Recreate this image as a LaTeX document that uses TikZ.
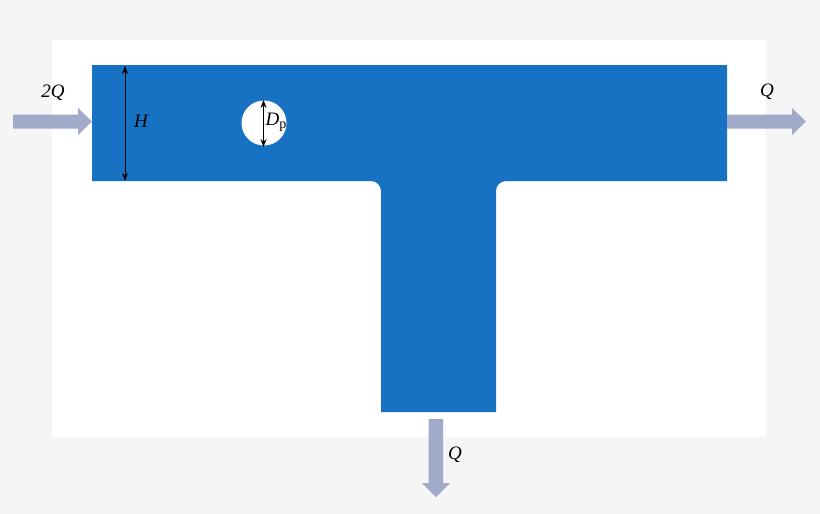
\documentclass[tikz,border=0pt]{standalone}
\usepackage{fontspec}
\setmainfont{Liberation Serif}
\usetikzlibrary{arrows.meta}
\definecolor{tblue}{HTML}{1872C4}
\definecolor{flowc}{HTML}{A2AAC9}
\definecolor{bggray}{HTML}{F5F5F5}
\tikzset{
  flow/.style={fill=flowc, draw=none},
  lbl/.style={font=\fontsize{19}{22}\selectfont\itshape, inner sep=0pt},
  dim/.style={line width=0.8pt, {Stealth[length=8pt,width=6pt]}-{Stealth[length=8pt,width=6pt]}}
}
\begin{document}
\begin{tikzpicture}[x=1pt,y=-1pt]
\useasboundingbox (0,0) rectangle (820,514);
\fill[bggray] (0,0) rectangle (820,514);
\fill[white] (52,40) rectangle (766,437);
% T channel
\fill[tblue] (92,65) -- (727,65) -- (727,181) -- (506,181)
  .. controls (500.48,181) and (496,185.48) .. (496,191)
  -- (496,412) -- (381,412) -- (381,191)
  .. controls (381,185.48) and (376.52,181) .. (371,181)
  -- (92,181) -- cycle;
% particle
\fill[white] (264,123) circle (22.5);
% flow arrows
\fill[flow] (13,114.5) -- (78,114.5) -- (78,108) -- (92,121.5) -- (78,135) -- (78,128.5) -- (13,128.5) -- cycle;
\fill[flow] (727,114.5) -- (792,114.5) -- (792,108) -- (806,121.5) -- (792,135) -- (792,128.5) -- (727,128.5) -- cycle;
\fill[flow] (428.5,419) -- (443,419) -- (443,483) -- (450,483) -- (436,497) -- (422,483) -- (428.5,483) -- cycle;
% dimensions
\coordinate (ht) at (125,66);
\coordinate (hb) at (125,181);
\draw[dim] (ht) -- (hb);
\coordinate (dt) at (263.5,100);
\coordinate (db) at (263.5,147);
\draw[dim] (dt) -- (db);
% labels
\node[lbl] (lH) at (141,121) {H};
\node[lbl, anchor=west] (lD) at (265.5,122) {D\raisebox{-0.35ex}{\upshape\fontsize{14}{16}\selectfont p}};
\node[lbl] (l2Q) at (53,93) {2Q};
\node[lbl] (lQr) at (767,92) {Q};
\node[lbl] (lQd) at (455,455) {Q};
\end{tikzpicture}
\end{document}
